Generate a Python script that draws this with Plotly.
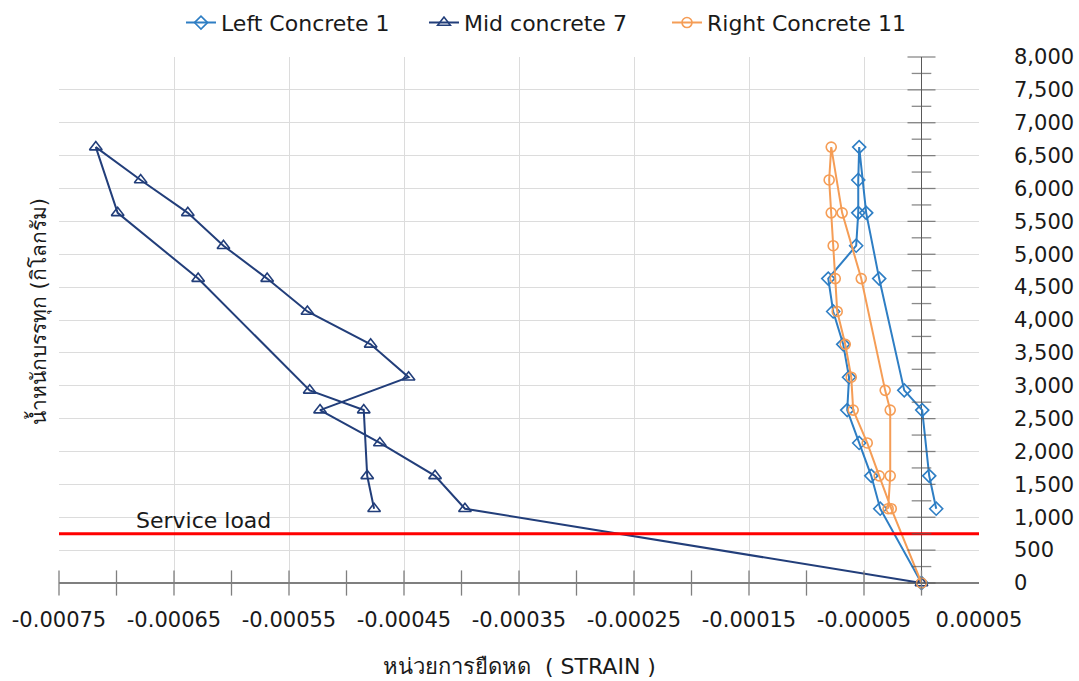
import plotly.graph_objects as go

# Applied load steps (kg): loading to 6,630 kg, then unloading
load_kg = [0, 1130, 1630, 2130, 2630, 3130, 3630, 4130, 4630, 5130, 5630, 6130, 6630,
           5630, 4630, 2930, 2630, 1630, 1130]

# Measured strain for each gauge at the load steps above
strain_left_1 = [0, -0.0000359, -0.0000437, -0.0000542, -0.0000646, -0.0000630, -0.0000681,
                 -0.0000768, -0.0000811, -0.0000568, -0.0000550, -0.0000550, -0.0000542,
                 -0.0000481, -0.0000368, -0.0000150, 0.0000006, 0.0000067, 0.0000128]
strain_mid_7 = [0, -0.000397, -0.000423, -0.000471, -0.000523, -0.000446, -0.000479,
                -0.000534, -0.000569, -0.000607, -0.000638, -0.000679, -0.000718,
                -0.000699, -0.000629, -0.000532, -0.000485, -0.000482, -0.000476]
strain_right_11 = [0, -0.0000263, -0.0000368, -0.0000472, -0.0000594, -0.0000611, -0.0000663,
                   -0.0000733, -0.0000750, -0.0000768, -0.0000785, -0.0000803, -0.0000785,
                   -0.0000690, -0.0000524, -0.0000316, -0.0000272, -0.0000272, -0.0000290]

SERVICE_LOAD = 750

x_tick_vals = [-0.00075, -0.00065, -0.00055, -0.00045, -0.00035, -0.00025, -0.00015, -0.00005, 0.00005]
x_tick_text = ["-0.00075", "-0.00065", "-0.00055", "-0.00045", "-0.00035", "-0.00025",
               "-0.00015", "-0.00005", "0.00005"]

X_MIN, X_MAX = -0.00075, 0.00005
Y_MIN, Y_MAX = 0, 8000

FONT = "DejaVu Sans, Noto Sans, sans-serif"
AXIS_GREY = "#7F7F7F"
GRID = "#DCDCDC"

fig = go.Figure()

series = [
    ("Left Concrete 1", strain_left_1, "#2E7EC4", "diamond-open", 10),
    ("Mid concrete 7", strain_mid_7, "#223E7A", "triangle-up-open", 11),
    ("Right Concrete 11", strain_right_11, "#F59D56", "circle-open", 10),
]
for name, xs, color, symbol, size in series:
    fig.add_trace(go.Scatter(
        x=xs, y=load_kg, name=name, mode="lines+markers",
        line=dict(color=color, width=2),
        marker=dict(symbol=symbol, size=size, color=color, line=dict(width=1.6, color=color)),
        cliponaxis=False,
    ))

# Service load level across the full strain range
fig.add_trace(go.Scatter(
    x=[X_MIN, X_MAX], y=[SERVICE_LOAD, SERVICE_LOAD], mode="lines",
    line=dict(color="#FF0000", width=3), showlegend=False, hoverinfo="skip",
))

# Cross tick marks on the strain axis (every 0.00005) and on the load axis at x = 0
n_xt = int(round((X_MAX - X_MIN) / 0.00005)) + 1
fig.add_trace(go.Scatter(
    x=[X_MIN + k * 0.00005 for k in range(n_xt)], y=[0] * n_xt, mode="markers",
    marker=dict(symbol="line-ns", size=18, line=dict(width=1.3, color=AXIS_GREY)),
    showlegend=False, hoverinfo="skip", cliponaxis=False,
))
y_ticks = list(range(Y_MIN, Y_MAX + 1, 250))
fig.add_trace(go.Scatter(
    x=[0] * len(y_ticks), y=y_ticks, mode="markers",
    marker=dict(symbol="line-ew", size=[20 if v % 500 == 0 else 14 for v in y_ticks],
                line=dict(width=1.3, color="#595959")),
    showlegend=False, hoverinfo="skip", cliponaxis=False,
))

fig.add_annotation(
    x=-0.000624, y=SERVICE_LOAD, xref="x", yref="y", text="Service load",
    showarrow=False, yanchor="bottom", yshift=-1,
    font=dict(family=FONT, size=22, color="#1A1A1A"),
)
fig.add_annotation(
    x=-0.0228, y=0.515, xref="paper", yref="paper", text="น้ำหนักบรรทุก (กิโลกรัม)",
    textangle=-90, showarrow=False, xanchor="center", yanchor="middle",
    font=dict(family=FONT, size=21, color="#1A1A1A"),
)
fig.add_annotation(
    x=0.5, y=-0.158, xref="paper", yref="paper", text="หน่วยการยืดหด  ( STRAIN )",
    showarrow=False, xanchor="center", yanchor="middle",
    font=dict(family=FONT, size=22, color="#1A1A1A"),
)

fig.update_layout(
    width=1079, height=681,
    margin=dict(l=59, r=100, t=57, b=98, autoexpand=False),
    paper_bgcolor="white", plot_bgcolor="white",
    font=dict(family=FONT, size=21, color="#1A1A1A"),
    showlegend=True,
    legend=dict(
        orientation="h", x=0.1326, xanchor="left", y=1.105, yanchor="top",
        font=dict(family=FONT, size=22, color="#1A1A1A"),
        bgcolor="rgba(0,0,0,0)", itemwidth=30, entrywidth=198,
    ),
    xaxis=dict(
        range=[X_MIN, X_MAX], tickmode="array", tickvals=x_tick_vals, ticktext=x_tick_text,
        showgrid=True, gridcolor=GRID, gridwidth=1,
        zeroline=True, zerolinecolor="#595959", zerolinewidth=1.3,
        showline=False, ticks="", ticklabelstandoff=22,
    ),
    yaxis=dict(
        range=[Y_MIN, Y_MAX], side="right", dtick=500, tickformat=",d",
        showgrid=True, gridcolor=GRID, gridwidth=1,
        zeroline=True, zerolinecolor=AXIS_GREY, zerolinewidth=1.5,
        showline=False, ticks="", ticklabelstandoff=34,
    ),
)

fig.write_html("out.html")
